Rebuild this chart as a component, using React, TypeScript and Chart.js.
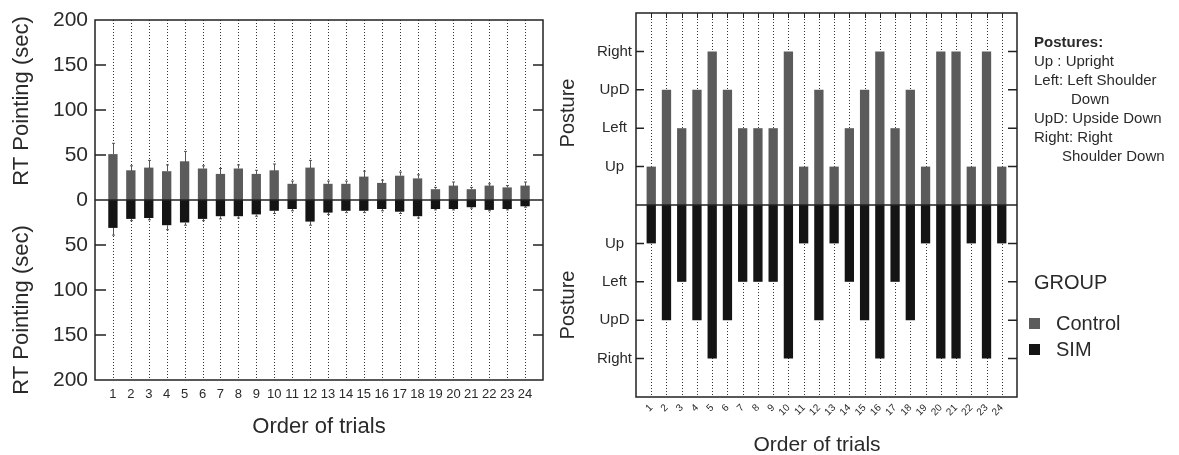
import React, { useEffect, useRef } from 'react';
import { Chart, registerables } from 'chart.js';

Chart.register(...registerables);

// ---------------- data ----------------
const trials = ['1', '2', '3', '4', '5', '6', '7', '8', '9', '10', '11', '12', '13', '14', '15', '16', '17', '18', '19', '20', '21', '22', '23', '24'];

// RT Pointing (sec), upper half = Control, lower half = SIM
const controlRT = [51, 33, 36, 32, 43, 35, 29, 35, 29, 33, 18, 36, 18, 18, 26, 19, 27, 24, 12, 16, 12, 16, 14, 16];
const controlErr = [12, 5, 8, 7, 11, 3, 6, 4, 4, 7, 3, 8, 3, 3, 6, 3, 4, 4, 2, 4, 2, 2, 2, 4];
const simRT = [31, 21, 20, 28, 25, 21, 18, 18, 16, 12, 10, 24, 14, 12, 12, 10, 13, 18, 10, 10, 8, 11, 10, 7];
const simErr = [8, 2, 2, 5, 3, 2, 3, 2, 2, 3, 2, 4, 2, 2, 2, 2, 2, 2, 1, 1, 1, 1, 1, 1];
const rtMax = 200;
const rtStep = 50;

// Posture per trial
const postureLevels = ['Up', 'Left', 'UpD', 'Right'];
const controlPosture = ['Up', 'UpD', 'Left', 'UpD', 'Right', 'UpD', 'Left', 'Left', 'Left', 'Right', 'Up', 'UpD', 'Up', 'Left', 'UpD', 'Right', 'Left', 'UpD', 'Up', 'Right', 'Right', 'Up', 'Right', 'Up'];
const simPosture = ['Up', 'UpD', 'Left', 'UpD', 'Right', 'UpD', 'Left', 'Left', 'Left', 'Right', 'Up', 'UpD', 'Up', 'Left', 'UpD', 'Right', 'Left', 'UpD', 'Up', 'Right', 'Right', 'Up', 'Right', 'Up'];

const groups = ['Control', 'SIM'];
const postureNotes = ['Up : Upright', 'Left: Left Shoulder', 'Down', 'UpD: Upside Down', 'Right: Right', 'Shoulder Down'];

// ---------------- styles ----------------
const FONT = '"Liberation Sans", Arial, Helvetica, sans-serif';
const TEXT = '#2a2a2a';
const CONTROL_COLOR = '#5b5b5b';
const SIM_COLOR = '#141414';
const groupColors = [CONTROL_COLOR, SIM_COLOR];

function drawDotted(chart: any, x: any, n: number) {
  const { ctx, chartArea: a } = chart;
  ctx.save();
  ctx.strokeStyle = '#333';
  ctx.lineWidth = 1;
  ctx.setLineDash([1, 2]);
  for (let i = 0; i < n; i++) {
    const px = Math.round(x.getPixelForValue(i + 1)) + 0.5;
    ctx.beginPath();
    ctx.moveTo(px, a.top);
    ctx.lineTo(px, a.bottom);
    ctx.stroke();
  }
  ctx.restore();
}

function drawFrameAndZero(chart: any, y: any) {
  const { ctx, chartArea: a } = chart;
  ctx.save();
  ctx.strokeStyle = '#222';
  ctx.lineWidth = 1.5;
  ctx.strokeRect(a.left, a.top, a.right - a.left, a.bottom - a.top);
  const zy = y.getPixelForValue(0);
  ctx.beginPath();
  ctx.moveTo(a.left, zy);
  ctx.lineTo(a.right, zy);
  ctx.stroke();
  ctx.restore();
}

function drawInwardTicks(chart: any, y: any, keep: (v: number) => boolean, lenL: number, lenR: number) {
  const { ctx, chartArea: a } = chart;
  ctx.save();
  ctx.strokeStyle = '#222';
  ctx.lineWidth = 1.5;
  y.ticks.forEach((t: any) => {
    if (!keep(t.value)) return;
    const py = y.getPixelForValue(t.value);
    ctx.beginPath();
    ctx.moveTo(a.left, py);
    ctx.lineTo(a.left + lenL, py);
    ctx.moveTo(a.right, py);
    ctx.lineTo(a.right - lenR, py);
    ctx.stroke();
  });
  ctx.restore();
}

function drawRotated(ctx: any, text: string, cx: number, cy: number, size: number) {
  ctx.save();
  ctx.translate(cx, cy);
  ctx.rotate(-Math.PI / 2);
  ctx.font = `${size}px ${FONT}`;
  ctx.fillStyle = TEXT;
  ctx.textAlign = 'center';
  ctx.textBaseline = 'middle';
  ctx.fillText(text, 0, 0);
  ctx.restore();
}

function drawText(ctx: any, text: string, cx: number, cy: number, size: number) {
  ctx.save();
  ctx.font = `${size}px ${FONT}`;
  ctx.fillStyle = TEXT;
  ctx.textAlign = 'center';
  ctx.textBaseline = 'middle';
  ctx.fillText(text, cx, cy);
  ctx.restore();
}

const leftPlugin = {
  id: 'leftDecor',
  beforeDatasetsDraw(chart: any) {
    drawDotted(chart, chart.scales.x, trials.length);
  },
  afterDatasetsDraw(chart: any) {
    const { ctx, chartArea: a, scales } = chart;
    const { x, y } = scales;
    ctx.save();
    ctx.strokeStyle = '#555';
    ctx.lineWidth = 1;
    trials.forEach((_, i) => {
      const px = Math.round(x.getPixelForValue(i + 1)) + 0.5;
      const c0 = y.getPixelForValue(controlRT[i]);
      const c1 = y.getPixelForValue(controlRT[i] + controlErr[i]);
      const s0 = y.getPixelForValue(-simRT[i]);
      const s1 = y.getPixelForValue(-(simRT[i] + simErr[i]));
      ctx.beginPath();
      ctx.moveTo(px, c0);
      ctx.lineTo(px, c1);
      ctx.moveTo(px - 1.5, c1);
      ctx.lineTo(px + 1.5, c1);
      ctx.moveTo(px, s0);
      ctx.lineTo(px, s1);
      ctx.moveTo(px - 1.5, s1);
      ctx.lineTo(px + 1.5, s1);
      ctx.stroke();
    });
    ctx.restore();
    drawFrameAndZero(chart, y);
    drawInwardTicks(chart, y, (v) => v !== 0 && Math.abs(v) < rtMax, 11, 10);
    drawRotated(ctx, 'RT Pointing (sec)', 22, 101, 22);
    drawRotated(ctx, 'RT Pointing (sec)', 22, 310, 22);
    drawText(ctx, 'Order of trials', (a.left + a.right) / 2, 427, 22);
  },
};

const rightPlugin = {
  id: 'rightDecor',
  beforeDatasetsDraw(chart: any) {
    drawDotted(chart, chart.scales.x, trials.length);
  },
  afterDatasetsDraw(chart: any) {
    const { ctx, chartArea: a, scales } = chart;
    const { x, y } = scales;
    drawFrameAndZero(chart, y);
    drawInwardTicks(chart, y, (v) => v !== 0 && Math.abs(v) <= postureLevels.length, 8, 9);
    ctx.save();
    ctx.strokeStyle = '#222';
    ctx.lineWidth = 1;
    trials.forEach((_, i) => {
      const px = Math.round(x.getPixelForValue(i + 1)) + 0.5;
      ctx.beginPath();
      ctx.moveTo(px, a.top);
      ctx.lineTo(px, a.top + 5);
      ctx.stroke();
    });
    ctx.restore();
    drawRotated(ctx, 'Posture', 28, 113, 20);
    drawRotated(ctx, 'Posture', 28, 305, 20);
    drawText(ctx, 'Order of trials', 277, 445, 21);
  },
};

function LeftChart() {
  const ref = useRef<HTMLCanvasElement>(null);
  useEffect(() => {
    const chart = new Chart(ref.current as HTMLCanvasElement, {
      type: 'bar',
      data: {
        datasets: [
          {
            label: groups[0],
            data: controlRT.map((v, i) => ({ x: i + 1, y: v })),
            backgroundColor: CONTROL_COLOR,
            grouped: false,
            barPercentage: 0.52,
            categoryPercentage: 1,
          },
          {
            label: groups[1],
            data: simRT.map((v, i) => ({ x: i + 1, y: -v })),
            backgroundColor: SIM_COLOR,
            grouped: false,
            barPercentage: 0.52,
            categoryPercentage: 1,
          },
        ],
      } as any,
      options: {
        animation: false,
        responsive: false,
        layout: { padding: { top: 20, right: 17, left: 0, bottom: 0 } },
        plugins: { legend: { display: false }, tooltip: { enabled: false } },
        scales: {
          x: {
            type: 'linear',
            min: 0,
            max: trials.length + 1,
            offset: false,
            grid: { display: false, drawTicks: false, offset: false },
            border: { display: false },
            ticks: {
              stepSize: 1,
              autoSkip: false,
              maxRotation: 0,
              minRotation: 0,
              padding: 7,
              color: TEXT,
              font: { family: FONT, size: 13 },
              callback: (v: any) => (v >= 1 && v <= trials.length ? trials[v - 1] : ''),
            },
            afterFit: (s: any) => { s.height = 75; },
          },
          y: {
            type: 'linear',
            min: -rtMax,
            max: rtMax,
            grid: { display: false, drawTicks: false },
            border: { display: false },
            ticks: {
              stepSize: rtStep,
              padding: 7,
              color: TEXT,
              font: { family: FONT, size: 21 },
              callback: (v: any) => String(Math.abs(v)),
            },
            afterFit: (s: any) => { s.width = 95; },
          },
        },
      } as any,
      plugins: [leftPlugin],
    });
    return () => chart.destroy();
  }, []);
  return <canvas ref={ref} width={560} height={455} style={{ position: 'absolute', left: 0, top: 0 }} />;
}

function RightChart() {
  const ref = useRef<HTMLCanvasElement>(null);
  useEffect(() => {
    const lvl = (p: string) => postureLevels.indexOf(p) + 1;
    const chart = new Chart(ref.current as HTMLCanvasElement, {
      type: 'bar',
      data: {
        datasets: [
          {
            label: groups[0],
            data: controlPosture.map((p, i) => ({ x: i + 1, y: lvl(p) })),
            backgroundColor: CONTROL_COLOR,
            grouped: false,
            barPercentage: 0.61,
            categoryPercentage: 1,
          },
          {
            label: groups[1],
            data: simPosture.map((p, i) => ({ x: i + 1, y: -lvl(p) })),
            backgroundColor: SIM_COLOR,
            grouped: false,
            barPercentage: 0.61,
            categoryPercentage: 1,
          },
        ],
      } as any,
      options: {
        animation: false,
        responsive: false,
        layout: { padding: { top: 13, right: 162, left: 0, bottom: 0 } },
        plugins: { legend: { display: false }, tooltip: { enabled: false } },
        scales: {
          x: {
            type: 'linear',
            min: 0,
            max: trials.length + 1,
            offset: false,
            grid: { display: false, drawTicks: false, offset: false },
            border: { display: false },
            ticks: {
              stepSize: 1,
              autoSkip: false,
              maxRotation: 45,
              minRotation: 45,
              padding: 5,
              color: TEXT,
              font: { family: FONT, size: 10 },
              callback: (v: any) => (v >= 1 && v <= trials.length ? trials[v - 1] : ''),
            },
            afterFit: (s: any) => { s.height = 58; },
          },
          y: {
            type: 'linear',
            min: -(postureLevels.length + 1),
            max: postureLevels.length + 1,
            grid: { display: false, drawTicks: false },
            border: { display: false },
            ticks: {
              stepSize: 1,
              padding: 4,
              crossAlign: 'center',
              color: TEXT,
              font: { family: FONT, size: 15 },
              callback: (v: any) => {
                const k = Math.abs(v);
                return k >= 1 && k <= postureLevels.length ? postureLevels[k - 1] : '';
              },
            },
            afterFit: (s: any) => { s.width = 96; },
          },
        },
      } as any,
      plugins: [rightPlugin],
    });
    return () => chart.destroy();
  }, []);
  return <canvas ref={ref} width={639} height={455} style={{ position: 'absolute', left: 540, top: 0 }} />;
}

export default function App() {
  const indents = [0, 0, 37, 0, 0, 28];
  return (
    <div style={{ position: 'absolute', left: 0, top: 0, width: 1179, height: 455, background: '#fff', overflow: 'hidden' }}>
      <LeftChart />
      <RightChart />
      <div style={{ position: 'absolute', left: 1034, top: 32, fontFamily: FONT, fontSize: 15, lineHeight: '19px', color: TEXT, whiteSpace: 'nowrap' }}>
        <div style={{ fontWeight: 'bold' }}>Postures:</div>
        {postureNotes.map((t, i) => (
          <div key={i} style={{ paddingLeft: indents[i] }}>{t}</div>
        ))}
      </div>
      <div style={{ position: 'absolute', left: 1034, top: 271, fontFamily: FONT, fontSize: 20, lineHeight: '23px', color: TEXT, whiteSpace: 'nowrap' }}>
        GROUP
      </div>
      {groups.map((g, i) => (
        <div key={g} style={{ position: 'absolute', left: 1029, top: 311 + i * 26, height: 24, display: 'flex', alignItems: 'center', fontFamily: FONT, fontSize: 20, color: TEXT, whiteSpace: 'nowrap' }}>
          <span style={{ display: 'inline-block', width: 11, height: 11, background: groupColors[i], marginRight: 16 }} />
          <span>{g}</span>
        </div>
      ))}
    </div>
  );
}
